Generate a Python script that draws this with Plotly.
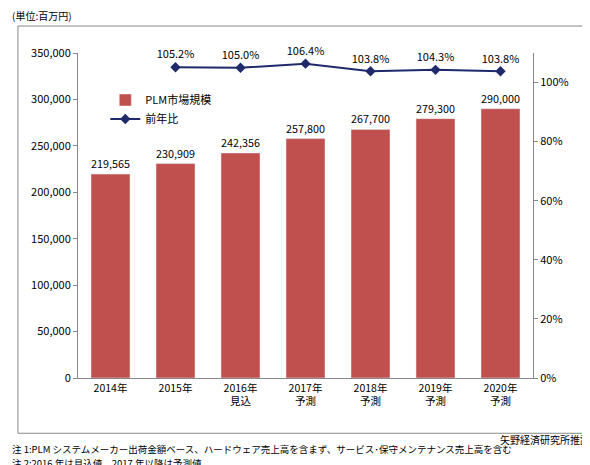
import plotly.graph_objects as go

categories = ["2014年", "2015年", "2016年<br>見込", "2017年<br>予測", "2018年<br>予測", "2019年<br>予測", "2020年<br>予測"]
market = [219565, 230909, 242356, 257800, 267700, 279300, 290000]
yoy_cats = categories[1:]
yoy = [1.052, 1.050, 1.064, 1.038, 1.043, 1.038]

font = "Noto Sans CJK JP"
fig = go.Figure()
fig.add_trace(go.Bar(x=categories, y=market, name="PLM市場規模", marker_color="#C0504D",
                     text=[f"{v:,}" for v in market], textposition="outside",
                     textfont=dict(size=11, color="#000"), width=0.6, cliponaxis=False))
fig.add_trace(go.Scatter(x=yoy_cats, y=yoy, name="前年比", yaxis="y2", mode="lines+markers+text",
                         line=dict(color="#1F2A6B", width=2), marker=dict(symbol="diamond", size=8),
                         text=[f"{v*100:.1f}%" for v in yoy], textposition="top center",
                         textfont=dict(size=11, color="#000"), cliponaxis=False))
fig.update_layout(
    width=590, height=465, margin=dict(l=70, r=65, t=45, b=95, autoexpand=False),
    paper_bgcolor="white", plot_bgcolor="white",
    font=dict(family=font, size=11, color="#000"),
    xaxis=dict(showline=True, linecolor="#888", ticks="", tickfont=dict(size=10.5), automargin=False),
    yaxis=dict(range=[0, 350000], dtick=50000, tickformat=",", showgrid=False, automargin=False,
               showline=True, linecolor="#888", ticks="outside", ticklen=4, tickcolor="#888"),
    yaxis2=dict(range=[0, 1.1], dtick=0.2, tickformat=".0%", overlaying="y", side="right", automargin=False,
                showgrid=False, showline=True, linecolor="#888", ticks="outside", ticklen=4, tickcolor="#888"),
    legend=dict(x=0.06, y=0.9, bgcolor="rgba(0,0,0,0)", font=dict(size=11), tracegroupgap=0),
    showlegend=True,
    shapes=[dict(type="rect", xref="paper", yref="paper", x0=-0.132, x1=1.13, y0=-0.17, y1=1.083,
                 line=dict(color="#888", width=1))],
    annotations=[
        dict(text="(単位:百万円)", xref="paper", yref="paper", x=-0.149, y=1.115, showarrow=False, xanchor="left", yanchor="middle", font=dict(size=10)),
        dict(text="矢野経済研究所推計", xref="paper", yref="paper", x=1.13, y=-0.19, showarrow=False, xanchor="right", yanchor="middle", font=dict(size=10)),
        dict(text="注 1:PLM システムメーカー出荷金額ベース、ハードウェア売上高を含まず、サービス･保守メンテナンス売上高を含む",
             xref="paper", yref="paper", x=-0.149, y=-0.218, showarrow=False, xanchor="left", yanchor="middle", font=dict(size=9.5)),
        dict(text="注 2:2016 年は見込値、2017 年以降は予測値",
             xref="paper", yref="paper", x=-0.149, y=-0.262, showarrow=False, xanchor="left", yanchor="middle", font=dict(size=9.5)),
    ],
)
fig.write_html("out.html")
